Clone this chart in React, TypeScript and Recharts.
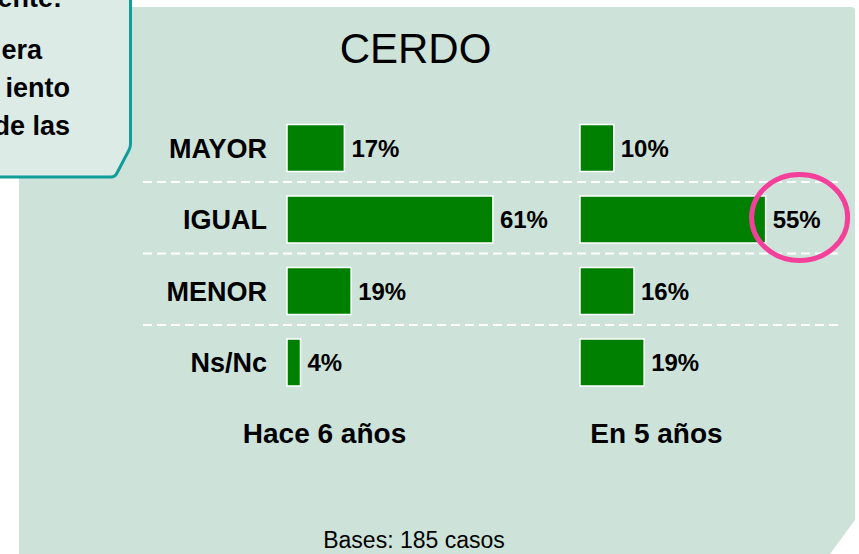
import { BarChart, Bar, XAxis, YAxis, LabelList } from "recharts";

const FONT = '"Liberation Sans", Arial, Helvetica, sans-serif';

const categories = ["MAYOR", "IGUAL", "MENOR", "Ns/Nc"];
const hace6Anios = [17, 61, 19, 4];
const en5Anios = [10, 55, 16, 19];
const periodLabels = ["Hace 6 años", "En 5 años"];
const highlighted = "IGUAL";

const calloutLines = ["ente:", "era", "iento", "de las"];

const W = 859;
const H = 554;
const PLOT_TOP = 112.5;
const ROW = 71.5;
const PLOT_BOTTOM = H - PLOT_TOP - ROW * categories.length;
const GREEN = "#008000";

const toRows = (values: number[]) =>
  categories.map((cat, i) => ({ cat, value: values[i] }));

const pctLabel = (v: any) => `${v}%`;

// bar with a white edge; the highlighted row gets a pink ring around its label
const RingedBar = (props: any) => {
  const { x, y, width, height, index, payload } = props;
  const isHot = (payload && payload.cat === highlighted) || categories[index] === highlighted;
  return (
    <g>
      <rect x={x} y={y} width={width} height={height} fill={GREEN} stroke="#ffffff" strokeWidth={1.5} />
      {isHot && (
        <ellipse
          cx={x + width + 34}
          cy={y + height / 2 - 2}
          rx={48}
          ry={43}
          fill="none"
          stroke="#f5409b"
          strokeWidth={5}
        />
      )}
    </g>
  );
};

const labelStyle = { fill: "#000", fontSize: 24, fontWeight: "bold", fontFamily: FONT };

export default function App() {
  const separators = [1, 2, 3].map((k) => PLOT_TOP + ROW * k - 2);

  return (
    <div
      style={{
        position: "absolute",
        left: 0,
        top: 0,
        width: W,
        height: H,
        background: "#ffffff",
        overflow: "hidden",
        fontFamily: FONT,
      }}
    >
      <svg width={W} height={H} style={{ position: "absolute", left: 0, top: 0 }}>
        <path d="M19 560 L19 7 L851 7 Q855 7 855 11 L855 520 L830 554 L830 560 Z" fill="#cde3da" />
        {separators.map((y) => (
          <line key={y} x1={143} x2={838} y1={y} y2={y} stroke="#ffffff" strokeWidth={2} strokeDasharray="9 5" />
        ))}
      </svg>

      <div style={{ position: "absolute", left: 0, top: 0 }}>
        <BarChart
          width={560}
          height={H}
          layout="vertical"
          data={toRows(hace6Anios)}
          margin={{ top: PLOT_TOP, right: 3, bottom: PLOT_BOTTOM, left: 0 }}
        >
          <XAxis type="number" domain={[0, 80]} hide />
          <YAxis
            type="category"
            dataKey="cat"
            width={287}
            axisLine={false}
            tickLine={false}
            tickSize={0}
            tickMargin={20}
            tick={{ fill: "#000", fontSize: 27, fontWeight: "bold", fontFamily: FONT }}
          />
          <Bar dataKey="value" barSize={47} fill={GREEN} stroke="#ffffff" strokeWidth={1.5} isAnimationActive={false}>
            <LabelList dataKey="value" position="right" offset={7} formatter={pctLabel} style={labelStyle} />
          </Bar>
        </BarChart>
      </div>

      <div style={{ position: "absolute", left: 570, top: 0 }}>
        <BarChart
          width={289}
          height={H}
          layout="vertical"
          data={toRows(en5Anios)}
          margin={{ top: PLOT_TOP, right: 9, bottom: PLOT_BOTTOM, left: 10 }}
        >
          <XAxis type="number" domain={[0, 80]} hide />
          <YAxis type="category" dataKey="cat" hide />
          <Bar dataKey="value" barSize={47} fill={GREEN} shape={RingedBar} isAnimationActive={false}>
            <LabelList dataKey="value" position="right" offset={7} formatter={pctLabel} style={labelStyle} />
          </Bar>
        </BarChart>
      </div>

      <svg width={W} height={H} style={{ position: "absolute", left: 0, top: 0, pointerEvents: "none" }}>
        {/* note box in the top-left corner */}
        <path
          d="M-10 -10 L130.5 -10 L130.5 144 Q130.5 147 129 150 L117 173 Q115 177 111 177 L-10 177 Z"
          fill="#dcebe5"
          stroke="#119e9b"
          strokeWidth={3}
        />
        <g fontFamily={FONT} fontWeight="bold" fontSize={27} fill="#000" textAnchor="end">
          <text x={62} y={7}>{calloutLines[0]}</text>
          <text x={42} y={59}>{calloutLines[1]}</text>
          <text x={70} y={97}>{calloutLines[2]}</text>
          <text x={70} y={135}>{calloutLines[3]}</text>
        </g>

        <text x={415.5} y={63} textAnchor="middle" fontFamily={FONT} fontSize={42} fill="#000">
          CERDO
        </text>

        <g fontFamily={FONT} fontWeight="bold" fontSize={28} fill="#000" textAnchor="middle">
          <text x={324.5} y={443}>{periodLabels[0]}</text>
          <text x={656.5} y={443}>{periodLabels[1]}</text>
        </g>

        <text x={414} y={548} textAnchor="middle" fontFamily={FONT} fontSize={23} fill="#000">
          Bases: 185 casos
        </text>
      </svg>
    </div>
  );
}
